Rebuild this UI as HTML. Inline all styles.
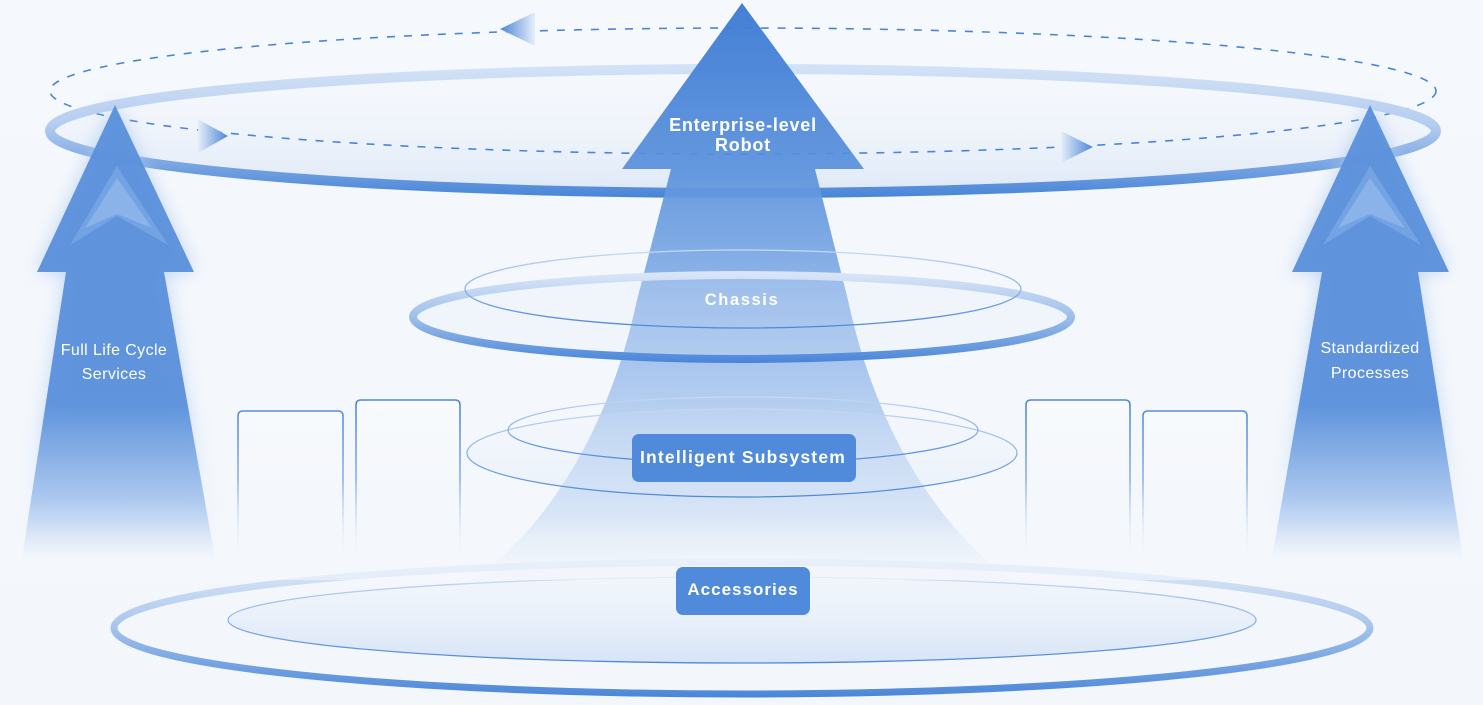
<!DOCTYPE html>
<html>
<head>
<meta charset="utf-8">
<style>
html,body{margin:0;padding:0;background:#f3f7fc;}
svg{display:block;}
text{font-family:"Liberation Sans",Arial,sans-serif;}
</style>
</head>
<body>
<svg width="1483" height="705" viewBox="0 0 1483 705" xmlns="http://www.w3.org/2000/svg">
<defs>
  <linearGradient id="bg" x1="0" y1="0" x2="0" y2="1">
    <stop offset="0" stop-color="#f5f8fc"/>
    <stop offset="1" stop-color="#f3f7fc"/>
  </linearGradient>
  <linearGradient id="ringTop" gradientUnits="userSpaceOnUse" x1="0" y1="66" x2="0" y2="196">
    <stop offset="0" stop-color="#d3e2f6"/>
    <stop offset="0.45" stop-color="#b4cdf0"/>
    <stop offset="1" stop-color="#4a86d8"/>
  </linearGradient>
  <linearGradient id="ringTopFill" gradientUnits="userSpaceOnUse" x1="0" y1="69" x2="0" y2="193">
    <stop offset="0" stop-color="#f3f7fc" stop-opacity="0"/>
    <stop offset="1" stop-color="#dbe6f6" stop-opacity="0.9"/>
  </linearGradient>
  <linearGradient id="beam" gradientUnits="userSpaceOnUse" x1="0" y1="0" x2="0" y2="600">
    <stop offset="0" stop-color="#3676d3"/>
    <stop offset="0.28" stop-color="#5a91dc"/>
    <stop offset="0.5" stop-color="#8cb3e8"/>
    <stop offset="0.7" stop-color="#b6cff0"/>
    <stop offset="0.86" stop-color="#d6e4f6"/>
    <stop offset="1" stop-color="#eef3fb" stop-opacity="0"/>
  </linearGradient>
  <linearGradient id="side" gradientUnits="userSpaceOnUse" x1="0" y1="105" x2="0" y2="560">
    <stop offset="0" stop-color="#5a90db"/>
    <stop offset="0.66" stop-color="#5a90db"/>
    <stop offset="0.86" stop-color="#a6c4ee"/>
    <stop offset="1" stop-color="#f3f7fc"/>
  </linearGradient>
  <linearGradient id="glow" gradientUnits="userSpaceOnUse" x1="0" y1="105" x2="0" y2="560">
    <stop offset="0" stop-color="#a9c6ef"/>
    <stop offset="0.7" stop-color="#bcd3f3"/>
    <stop offset="1" stop-color="#f3f7fc" stop-opacity="0"/>
  </linearGradient>
  <linearGradient id="chRing" gradientUnits="userSpaceOnUse" x1="0" y1="274" x2="0" y2="362">
    <stop offset="0" stop-color="#d8e5f7"/>
    <stop offset="0.5" stop-color="#9dbeea"/>
    <stop offset="1" stop-color="#4a86d8"/>
  </linearGradient>
  <linearGradient id="thinRing" x1="0" y1="0" x2="0" y2="1">
    <stop offset="0" stop-color="#c6d9f3"/>
    <stop offset="1" stop-color="#4f88d8"/>
  </linearGradient>
  <linearGradient id="thinFill" x1="0" y1="0" x2="0" y2="1">
    <stop offset="0" stop-color="#eef3fb" stop-opacity="0.1"/>
    <stop offset="1" stop-color="#d5e3f6" stop-opacity="0.55"/>
  </linearGradient>
  <linearGradient id="botRing" gradientUnits="userSpaceOnUse" x1="0" y1="560" x2="0" y2="697">
    <stop offset="0" stop-color="#e2ebf8"/>
    <stop offset="0.45" stop-color="#acc8ee"/>
    <stop offset="1" stop-color="#4a86d8"/>
  </linearGradient>
  <linearGradient id="botFill" gradientUnits="userSpaceOnUse" x1="0" y1="577" x2="0" y2="663">
    <stop offset="0" stop-color="#eef3fb" stop-opacity="0.3"/>
    <stop offset="1" stop-color="#d6e4f6"/>
  </linearGradient>
  <linearGradient id="panelStroke" gradientUnits="userSpaceOnUse" x1="0" y1="400" x2="0" y2="560">
    <stop offset="0" stop-color="#4f88d6"/>
    <stop offset="0.5" stop-color="#8fb2e6"/>
    <stop offset="1" stop-color="#eef3fb" stop-opacity="0"/>
  </linearGradient>
  <linearGradient id="panelFill" gradientUnits="userSpaceOnUse" x1="0" y1="400" x2="0" y2="560">
    <stop offset="0" stop-color="#f8fafd"/>
    <stop offset="1" stop-color="#f3f7fc" stop-opacity="0"/>
  </linearGradient>
  <linearGradient id="dArrL" x1="0" y1="0" x2="1" y2="0">
    <stop offset="0" stop-color="#4a86d8"/>
    <stop offset="1" stop-color="#e6eef9"/>
  </linearGradient>
  <linearGradient id="dArrR" x1="1" y1="0" x2="0" y2="0">
    <stop offset="0" stop-color="#4a86d8"/>
    <stop offset="1" stop-color="#e6eef9"/>
  </linearGradient>
  <linearGradient id="haze" gradientUnits="userSpaceOnUse" x1="0" y1="520" x2="0" y2="580">
    <stop offset="0" stop-color="#f5f8fc" stop-opacity="0"/>
    <stop offset="1" stop-color="#f5f8fc" stop-opacity="0.9"/>
  </linearGradient>
  <filter id="blur" x="-50%" y="-50%" width="200%" height="200%">
    <feGaussianBlur stdDeviation="9"/>
  </filter>
</defs>

<rect width="1483" height="705" fill="url(#bg)"/>

<!-- top ring fill -->
<ellipse cx="743" cy="131" rx="693" ry="62" fill="url(#ringTopFill)"/>

<!-- dashed orbit -->
<ellipse cx="743" cy="91" rx="693" ry="63" fill="none" stroke="#4a86d8" stroke-width="1.6" stroke-dasharray="8 9"/>

<!-- top ring -->
<ellipse cx="743" cy="131" rx="693" ry="62" fill="none" stroke="url(#ringTop)" stroke-width="10"/>

<!-- panels -->
<g fill="url(#panelFill)" stroke="url(#panelStroke)" stroke-width="1.6">
  <path d="M238,560 L238,416 Q238,411 243,411 L338,411 Q343,411 343,416 L343,560"/>
  <path d="M356,560 L356,405 Q356,400 361,400 L455,400 Q460,400 460,405 L460,560"/>
  <path d="M1026,560 L1026,405 Q1026,400 1031,400 L1125,400 Q1130,400 1130,405 L1130,560"/>
  <path d="M1143,560 L1143,416 Q1143,411 1148,411 L1242,411 Q1247,411 1247,416 L1247,560"/>
</g>

<!-- bottom rings -->
<ellipse cx="742" cy="620" rx="514" ry="43" fill="url(#botFill)" stroke="url(#thinRing)" stroke-width="1.3"/>

<!-- central beam -->
<path d="M742,3 L864,169 L815,169 L848,300 C880,450 960,560 1045,598 L440,598 C525,560 605,450 637,300 L671,169 L622,169 Z" fill="url(#beam)" opacity="0.93"/>

<ellipse cx="742" cy="628" rx="628" ry="66" fill="none" stroke="url(#botRing)" stroke-width="7"/>

<!-- chassis rings -->
<ellipse cx="742" cy="317" rx="329" ry="42" fill="#e3ecf8" fill-opacity="0.2" stroke="url(#chRing)" stroke-width="8"/>
<ellipse cx="743" cy="289" rx="278" ry="39" fill="none" stroke="url(#thinRing)" stroke-width="1.3"/>

<!-- intelligent subsystem rings -->
<ellipse cx="742" cy="453" rx="275" ry="44" fill="url(#thinFill)" fill-opacity="0.6" stroke="url(#thinRing)" stroke-width="1.3"/>
<ellipse cx="743" cy="430" rx="235" ry="33" fill="none" stroke="url(#thinRing)" stroke-width="1.3"/>

<!-- side arrow glows -->
<path d="M115,105 L194,272 L164,272 L215,558 L22,558 L66,272 L37,272 Z" fill="url(#glow)" filter="url(#blur)" opacity="0.8"/>
<path d="M1370,105 L1449,272 L1418,272 L1463,558 L1272,558 L1322,272 L1292,272 Z" fill="url(#glow)" filter="url(#blur)" opacity="0.8"/>

<!-- side arrows -->
<path d="M115,105 L194,272 L164,272 L215,558 L22,558 L66,272 L37,272 Z" fill="url(#side)" opacity="0.95"/>
<path d="M1370,105 L1449,272 L1418,272 L1463,558 L1272,558 L1322,272 L1292,272 Z" fill="url(#side)" opacity="0.95"/>

<!-- chevrons -->
<polygon points="117,166 168,245 117,216 70,245" fill="#7aa8e5" opacity="0.75"/>
<polygon points="117,178 152,228 117,214 85,228" fill="#8fb6ea" opacity="0.8"/>
<polygon points="1370,166 1421,245 1370,216 1323,245" fill="#7aa8e5" opacity="0.75"/>
<polygon points="1370,178 1405,228 1370,214 1338,228" fill="#8fb6ea" opacity="0.8"/>

<!-- haze at bottom -->
<rect x="0" y="520" width="1483" height="60" fill="url(#haze)" opacity="0.6"/>

<!-- dashed arrowheads -->
<polygon points="500,29 535,12 535,46" fill="url(#dArrL)"/>
<polygon points="228,136 198,119 198,153" fill="url(#dArrR)"/>
<polygon points="1093,147 1061,131 1061,163" fill="url(#dArrR)"/>

<!-- labels -->
<g fill="#ffffff" font-weight="bold" text-anchor="middle">
  <text x="743" y="131" font-size="18" letter-spacing="0.8">Enterprise-level</text>
  <text x="743" y="151" font-size="18" letter-spacing="0.8">Robot</text>
  <text x="742" y="305" font-size="16.5" letter-spacing="1.6">Chassis</text>
</g>

<rect x="632" y="434" width="224" height="48" rx="7" fill="#4f8adb"/>
<text x="743" y="463" fill="#fff" font-weight="bold" font-size="17.5" text-anchor="middle" letter-spacing="1.2">Intelligent Subsystem</text>

<rect x="676" y="567" width="134" height="48" rx="7" fill="#4f8adb"/>
<text x="743" y="595" fill="#fff" font-weight="bold" font-size="17" text-anchor="middle" letter-spacing="1">Accessories</text>

<g fill="#ffffff" font-size="16" text-anchor="middle" letter-spacing="0.4">
  <text x="114" y="355">Full Life Cycle</text>
  <text x="114" y="379">Services</text>
  <text x="1370" y="353">Standardized</text>
  <text x="1370" y="378">Processes</text>
</g>
</svg>
</body>
</html>
